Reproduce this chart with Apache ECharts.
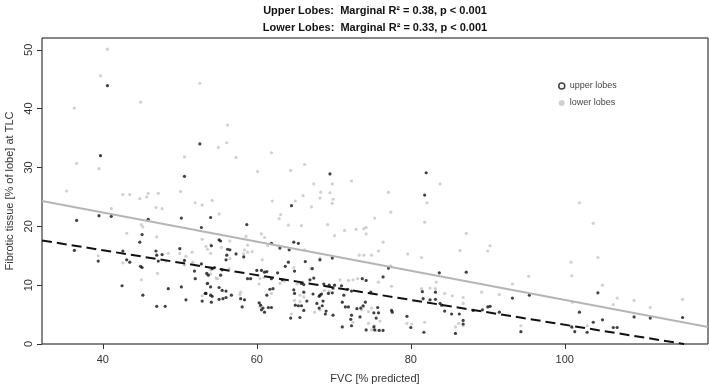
<!DOCTYPE html>
<html><head><meta charset="utf-8">
<script src="https://cdn.jsdelivr.net/npm/echarts@6/dist/echarts.min.js"></script>
<style>html,body{margin:0;padding:0;background:#fff}#c{width:709px;height:385px}</style>
</head><body><div id="c"></div>
<script>
var titleLines = ['Upper Lobes:  Marginal R\u00b2 = 0.38, p < 0.001', 'Lower Lobes:  Marginal R\u00b2 = 0.33, p < 0.001'];
var xName = 'FVC [% predicted]';
var yName = 'Fibrotic tissue [% of lobe] at TLC';
var xTicks = [40, 60, 80, 100];
var yTicks = [0, 10, 20, 30, 40, 50];
var seriesNames = ['upper lobes', 'lower lobes'];

var upperPoints = [
[40.6,43.9],[52.6,34.0],[39.7,32.0],[50.6,28.5],[69.5,28.9],[82.0,29.1],
[36.6,21.0],[39.5,21.8],[41.1,21.7],[45.9,21.2],[50.2,21.4],[52.8,19.8],[54.0,21.5],
[45.1,18.6],[44.8,17.3],[36.3,15.9],[39.4,14.1],[42.6,15.8],[43.1,14.3],[43.5,13.9],[44.9,13.2],[45.1,13.0],
[46.9,15.8],[47.0,15.1],[47.7,15.2],[47.2,14.1],[50.0,16.2],[50.6,14.2],[52.8,13.6],[51.9,12.4],[53.5,12.0],[53.7,11.7],[52.0,11.1],
[42.5,9.9],[50.2,9.7],[48.5,9.4],[45.2,8.3],[53.4,8.6],[54.0,8.3],[50.8,7.5],[52.9,7.3],[47.0,6.4],[48.1,6.4],
[64.5,23.5],[58.7,20.3],[55.1,17.7],[55.3,17.5],[61.9,17.1],[64.8,17.3],[65.4,17.1],[54.1,16.7],[56.2,16.1],[56.5,16.0],[63.0,16.3],[64.2,16.0],
[57.3,15.3],[58.3,14.8],[56.1,15.1],[56.0,14.3],[68.2,14.3],[69.8,14.6],[64.1,13.9],[54.2,12.8],[54.5,13.0],[55.5,12.6],[55.3,11.7],
[60.0,12.5],[60.6,12.5],[61.0,12.2],[61.3,12.3],[58.8,11.1],[59.2,11.1],[61.9,11.1],[62.7,12.1],[63.7,13.2],[61.7,9.3],[62.1,9.4],[61.3,8.3],[63.3,10.9],
[64.9,12.4],[66.3,14.0],[67.2,12.8],[67.4,11.2],[65.8,10.3],[66.1,10.1],[66.9,10.9],[64.8,9.2],[64.9,8.6],[66.1,8.8],
[67.3,8.5],[68.2,8.3],[68.4,8.5],[68.1,8.1],[69.3,8.6],[69.8,8.7],[69.9,9.5],[68.7,10.2],[69.4,10.0],[70.1,10.0],
[73.7,11.1],[74.2,10.8],[74.8,8.8],[71.0,9.9],[71.8,9.3],[72.3,9.0],[71.3,8.3],[71.1,7.1],[71.5,6.3],[71.9,6.3],[73.0,6.0],[73.5,6.1],[73.8,6.5],[74.1,7.1],
[72.3,4.9],[72.2,4.2],[73.4,4.6],[71.1,2.9],[72.3,3.1],[74.2,2.4],[75.2,2.9],
[53.6,10.3],[54.0,9.7],[55.1,9.6],[55.5,9.1],[56.0,9.0],[56.0,7.9],[56.7,8.3],[53.3,8.6],[54.2,8.1],[54.1,7.1],[55.1,7.6],[55.6,7.7],
[57.9,7.7],[58.4,7.5],[58.1,6.3],[60.3,7.0],[60.5,6.6],[60.8,6.1],[61.0,5.4],[60.6,5.8],[61.5,6.2],[61.9,6.2],[65.0,6.6],[65.4,6.5],[65.8,6.5],
[66.5,7.3],[66.1,5.7],[64.4,4.4],[65.6,4.5],[67.8,6.9],[68.1,6.1],[68.5,6.5],[68.6,7.3],[68.9,5.1],[69.0,5.6],[69.9,4.9],
[81.8,25.3],[77.1,12.9],[83.7,12.1],[87.2,12.2],[76.4,11.4],[81.5,8.9],[83.2,8.8],[83.2,7.6],[82.5,7.5],[81.6,7.7],[83.8,6.9],[84.0,6.6],[90.0,6.3],[90.3,6.4],
[93.2,7.8],[95.4,8.3],[91.5,5.4],[89.3,5.8],[75.7,6.2],[75.2,5.3],[75.8,5.3],[75.5,4.4],[75.3,2.4],[75.9,2.3],[76.4,2.3],[77.5,5.7],[77.6,5.4],[79.5,4.7],[80.0,2.8],
[81.7,2.0],[84.4,5.6],[85.3,5.1],[86.3,5.1],[86.8,4.0],[86.8,3.4],[85.8,1.8],[94.3,2.1],
[104.3,8.7],[101.9,5.4],[104.9,4.1],[103.7,3.7],[109.0,4.6],[111.1,4.4],[115.3,4.5],[106.3,2.8],[106.8,2.8],[100.9,2.9],[101.3,2.1],[102.9,2.0],
[88.1,5.7]
];

var lowerPoints = [
[40.6,50.1],[39.7,45.6],[44.9,41.1],[36.3,40.1],[52.6,44.3],[56.2,37.2],[55.0,33.4],[56.1,34.2],[57.3,31.7],[36.6,30.7],[39.5,29.8],[50.6,31.8],[60.1,29.3],[35.3,26.0],
[42.6,25.4],[43.5,25.4],[44.8,24.7],[45.9,25.6],[47.2,25.6],[45.7,25.0],[50.1,25.9],
[61.9,32.5],[64.4,29.5],[66.2,30.5],[72.3,27.7],[83.8,27.2],[67.4,27.2],[69.8,27.2],
[52.0,24.0],[52.9,23.6],[54.2,24.4],[46.9,23.2],[47.7,23.0],[41.1,23.0],[45.0,20.3],[45.2,19.9],[43.1,18.8],[47.0,18.2],[52.9,17.8],
[53.4,16.6],[53.6,16.1],[54.0,16.9],[54.0,15.4],[39.4,15.0],[42.6,13.8],[48.5,15.4],[50.0,15.4],[50.8,14.9],[51.6,15.6],[48.2,14.1],[51.7,13.9],[50.6,13.4],
[54.0,12.6],[54.0,11.9],[47.1,12.0],[45.0,10.9],[53.5,10.2],[52.9,8.2],
[68.3,25.8],[69.5,25.7],[66.0,25.2],[68.2,24.8],[69.9,24.6],[69.8,23.9],[62.0,24.3],[65.0,24.3],[67.1,23.3],[55.1,22.1],[63.1,22.0],[62.9,21.3],[64.1,20.2],[65.8,20.1],[69.2,20.3],
[71.4,19.3],[72.9,19.5],[73.9,19.6],[74.2,19.8],[74.2,18.7],[70.1,18.4],[58.6,18.3],[60.6,18.7],[61.0,18.1],[56.5,17.5],[61.4,16.7],[58.8,16.8],[55.4,16.4],[66.2,16.0],
[58.4,16.0],[58.8,15.6],[59.4,15.7],[58.3,15.3],[56.5,14.5],[60.7,14.3],[68.2,14.6],[64.8,13.0],[53.9,13.0],[56.4,12.8],[54.7,11.2],[54.9,11.1],
[60.4,11.1],[60.9,11.3],[60.3,10.2],[61.9,8.6],[63.0,10.3],[63.6,10.7],[67.0,12.8],[65.2,10.2],[65.5,10.4],[65.6,8.3],[66.1,8.0],[68.8,9.1],[69.4,9.0],
[70.8,10.9],[71.9,10.8],[72.5,10.9],[73.1,11.1],[73.9,6.3],[73.6,5.8],[74.9,6.1],[74.5,5.5],[72.5,3.7],[74.5,3.5],
[57.9,8.8],[57.8,8.4],[60.4,6.3],[64.9,7.4],[65.6,7.2],[64.5,5.1],[67.5,5.4],[68.2,5.8],
[77.1,25.8],[82.1,24.0],[77.4,22.4],[75.3,21.4],[81.8,20.7],[87.2,18.8],[76.4,17.3],[75.8,15.8],[79.6,15.3],[81.4,14.7],[86.4,15.9],[90.3,16.7],[90.0,15.8],
[77.4,13.3],[95.3,11.5],[75.8,10.5],[77.5,9.8],[81.4,9.4],[82.5,9.5],[83.2,9.4],[83.3,10.5],[84.4,8.6],[85.4,8.2],[86.8,7.9],[86.8,6.9],[89.2,8.8],[91.5,8.4],
[75.3,3.1],[74.9,2.4],[75.5,2.3],[76.0,3.9],[79.5,3.5],[80.1,3.4],[81.8,3.7],[85.8,2.9],[86.2,3.5],[86.8,3.1],[94.3,3.1],
[101.9,24.0],[103.7,20.5],[104.3,14.7],[100.8,13.9],[100.9,11.6],[104.9,10.0],[93.2,10.2],[101.0,7.1],[106.3,6.7],[106.8,7.8],[109.0,7.4],[111.1,6.2],[115.3,7.6],
[101.0,2.8],[102.9,3.1],[73.3,15.1],[73.9,15.1],[74.9,15.1]
];

var upperFit = [[32.1, 17.6], [115.5, 0]];
var lowerFit = [[32.1, 24.3], [118.6, 2.9]];

var FONT = '"Liberation Sans", Arial, sans-serif';
var chart = echarts.init(document.getElementById('c'), null, {renderer: 'canvas'});
chart.setOption({
  animation: false,
  backgroundColor: '#fff',
  title: {
    text: titleLines.join('\n'),
    left: 375, top: 2, padding: 0, textAlign: 'center',
    textStyle: {fontFamily: FONT, fontSize: 11, fontWeight: 'bold', color: '#111', lineHeight: 17}
  },
  legend: {
    orient: 'vertical', left: 558, top: 81, padding: 0,
    itemWidth: 6, itemHeight: 6, itemGap: 7,
    textStyle: {fontFamily: FONT, fontSize: 9, color: '#444', lineHeight: 10},
    data: [
      {name: seriesNames[0], icon: 'circle', itemStyle: {color: '#fff', borderColor: '#111', borderWidth: 1.5}},
      {name: seriesNames[1], icon: 'circle', itemStyle: {color: '#c4c4c4', borderWidth: 0}}
    ]
  },
  grid: {left: 42, right: 1, top: 38, bottom: 41, containLabel: false, outerBoundsMode: 'none',
         show: true, borderColor: '#111', borderWidth: 1, backgroundColor: 'transparent'},
  xAxis: {
    type: 'value', min: 32.1, max: 118.6,
    name: xName, nameLocation: 'middle', nameGap: 29,
    nameTextStyle: {fontFamily: FONT, fontSize: 11, color: '#333'},
    axisLine: {show: false}, splitLine: {show: false},
    axisTick: {show: true, length: 5, lineStyle: {color: '#333'}, customValues: xTicks},
    axisLabel: {fontFamily: FONT, fontSize: 11, color: '#333', margin: 10, customValues: xTicks}
  },
  yAxis: {
    type: 'value', min: 0, max: 52,
    name: yName, nameLocation: 'middle', nameGap: 27, nameRotate: 90,
    nameTextStyle: {fontFamily: FONT, fontSize: 11, color: '#333'},
    axisLine: {show: false}, splitLine: {show: false},
    axisTick: {show: true, length: 5, lineStyle: {color: '#333'}, customValues: yTicks},
    axisLabel: {fontFamily: FONT, fontSize: 11, color: '#333', margin: 8, rotate: 90, customValues: yTicks}
  },
  series: [
    {name: seriesNames[1], type: 'scatter', data: lowerPoints, symbol: 'circle', symbolSize: 3.2,
     itemStyle: {color: '#c4c4c4'}, z: 2},
    {name: seriesNames[0], type: 'scatter', data: upperPoints, symbol: 'circle', symbolSize: 3.2,
     itemStyle: {color: '#111'}, z: 3},
    {name: 'lowerFit', type: 'line', data: lowerFit, symbol: 'none', clip: true,
     lineStyle: {color: '#b5b5b5', width: 2, type: 'solid'}, z: 4, silent: true},
    {name: 'upperFit', type: 'line', data: upperFit, symbol: 'none', clip: true,
     lineStyle: {color: '#111', width: 2, type: [10, 5]}, z: 5, silent: true}
  ]
});
</script>
</body></html>
